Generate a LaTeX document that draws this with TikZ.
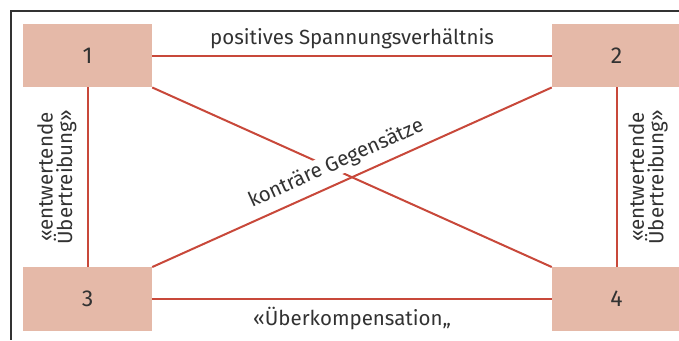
\documentclass[tikz,border=0pt]{standalone}
\usepackage{fontspec}
\setmainfont{Fira Sans}
\usepackage{tikz}
\definecolor{boxrose}{RGB}{229,185,168}
\definecolor{linered}{RGB}{200,72,58}
\definecolor{textgray}{RGB}{50,50,50}

\begin{document}
\begin{tikzpicture}[x=1pt, y=-1pt,
  font=\fontsize{20.5}{18}\selectfont, text=textgray,
  box/.style={fill=boxrose, minimum width=129pt, minimum height=63.5pt, inner sep=0pt,
    font=\fontsize{23}{24}\selectfont},
  link/.style={draw=linered, line width=2pt},
  lbl/.style={inner sep=2pt}]
\clip (0,0) rectangle (679,340);
\draw[textgray, line width=1.2pt] (679,11) -- (11,11) -- (11,340);
\node[box] (n1) at (87.5,55.5) {1};
\node[box] (n2) at (616.5,55.5) {2};
\node[box] (n3) at (87.5,299) {3};
\node[box] (n4) at (616.5,299) {4};
\draw[link] (n1) -- node[lbl, above=4pt] {positives Spannungsverhältnis} (n2);
\draw[link] (n3) -- node[lbl, below=5pt] {«Überkompensation„} (n4);
\draw[link] (n3) -- node[lbl, sloped, above=8pt, align=center] {«entwertende\\Übertreibung»} (n1);
\draw[link] (n4) -- node[lbl, sloped, below=9pt, align=center] {«entwertende\\Übertreibung»} (n2);
\draw[link] (n1.south east) -- (n4.north west);
\draw[link] (n3.north east) -- node[sloped, above=6pt, pos=0.48, inner sep=2pt, fill=white] {konträre Gegensätze} (n2.south west);
\end{tikzpicture}
\end{document}
